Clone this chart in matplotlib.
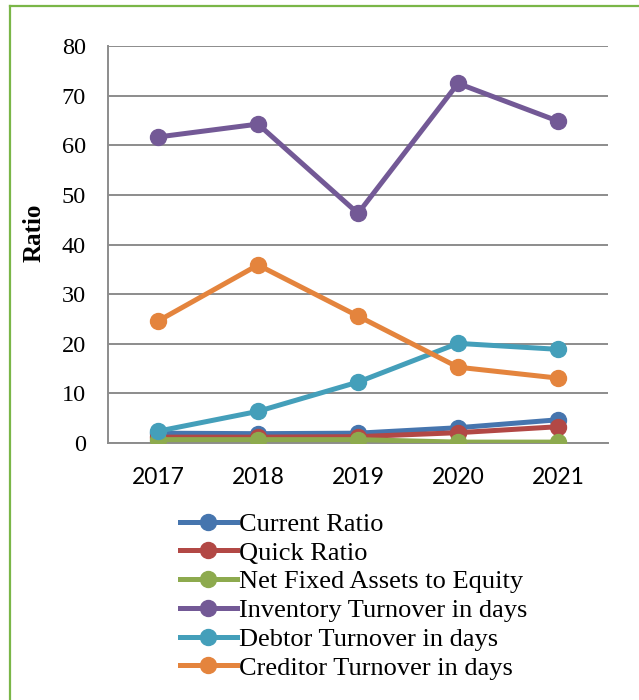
import matplotlib.pyplot as plt
from matplotlib.lines import Line2D

years = ['2017', '2018', '2019', '2020', '2021']

current_ratio = [2.0, 1.9, 2.0, 3.1, 4.7]
quick_ratio = [1.2, 1.2, 1.3, 2.1, 3.3]
nfa_equity = [0.7, 0.7, 0.7, 0.2, 0.2]
inventory_days = [61.7, 64.3, 46.3, 72.5, 64.9]
debtor_days = [2.4, 6.4, 12.3, 20.1, 18.9]
creditor_days = [24.6, 35.9, 25.6, 15.3, 13.1]

names = ['Current Ratio', 'Quick Ratio', 'Net Fixed Assets to Equity',
         'Inventory Turnover in days', 'Debtor Turnover in days',
         'Creditor Turnover in days']
series = [current_ratio, quick_ratio, nfa_equity,
          inventory_days, debtor_days, creditor_days]
colors = ['#4675AE', '#B24845', '#8DAA4E', '#735996', '#449FBA', '#E4843D']

serif = 'Liberation Serif'
lw, ms = 3.6, 11.5

fig = plt.figure(figsize=(6.39, 7.00), dpi=100)
ax = fig.add_axes([0.169, 0.367, 0.7825, 0.567])

x = range(len(years))
for vals, c, lab in zip(series, colors, names):
    ax.plot(x, vals, '-o', color=c, lw=lw, ms=ms, label=lab,
            solid_capstyle='round', zorder=3)

ax.set_xlim(-0.5, 4.5)
ax.set_ylim(0, 80)
ax.set_yticks(range(0, 81, 10))
ax.set_xticks(list(x))
ax.set_xticklabels(years, family='Lato', fontsize=16.5)
for t in ax.get_yticklabels():
    t.set_family(serif)
    t.set_fontsize(17.5)
ax.tick_params(axis='y', length=0, pad=16)
ax.tick_params(axis='x', length=0, pad=17)

ax.grid(axis='y', color='#8C8C8C', lw=1.4, zorder=1)
ax.set_axisbelow(True)
for s in ['top', 'right']:
    ax.spines[s].set_visible(False)
for s in ['left', 'bottom']:
    ax.spines[s].set_color('#8C8C8C')
    ax.spines[s].set_linewidth(1.4)

fig.text(0.054, 0.668, 'Ratio', rotation=90, ha='center', va='center',
         family=serif, fontweight='bold', fontsize=18)

handles = [Line2D([], [], color=c, lw=lw, marker='o', ms=ms)
           for c in colors]
fig.legend(handles, names, loc='upper left', bbox_to_anchor=(0.2817, 0.268),
           frameon=False, prop={'family': serif, 'size': 19},
           handlelength=2.15, handletextpad=0.1, labelspacing=0.2,
           borderpad=0, borderaxespad=0)

# green frame around the figure
fig.add_artist(Line2D([0.0157, 1.0], [0.991, 0.991], color='#7AB648', lw=1.6))
fig.add_artist(Line2D([0.0157, 0.0157], [0.0, 0.991], color='#7AB648', lw=1.6))

fig.savefig('out.png', dpi=100)
